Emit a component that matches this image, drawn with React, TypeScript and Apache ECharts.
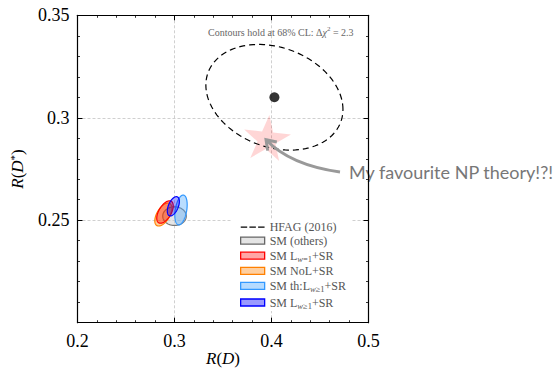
import React, { useEffect, useRef } from "react";
import * as echarts from "echarts";

// ---- data ----
const X_RANGE = [0.2, 0.5];
const Y_RANGE = [0.2, 0.35];
const X_LABELED = [0.2, 0.3, 0.4, 0.5];
const Y_LABELED = [0.25, 0.3, 0.35];
// [centre R(D), centre R(D*), sigma R(D), sigma R(D*), correlation]
const HFAG_2016 = [0.403, 0.31, 0.0466, 0.017, -0.23];
const SM_OTHERS = [0.3, 0.252, 0.008, 0.003, 0];
const SM_LW1_SR = [0.2902, 0.254, 0.0056, 0.0036, 0.55];
const SM_NOL_SR = [0.2885, 0.2528, 0.0058, 0.0037, 0.55];
const SM_TH_LW_SR = [0.3067, 0.255, 0.0042, 0.0048, 0.35];
const SM_LW_SR = [0.2988, 0.2568, 0.0041, 0.0031, 0.5];
const NP_STAR = [0.3954, 0.2905];
const DELTA_CHI2 = 2.3;

const SERIF = "'Liberation Serif', 'Times New Roman', serif";

const STAR_PATH =
  "path://M0,-1 L0.2245,-0.309 L0.951,-0.309 L0.363,0.118 L0.588,0.809 L0,0.382 L-0.588,0.809 L-0.363,0.118 L-0.951,-0.309 L-0.2245,-0.309 Z";
const DASH_ICON =
  "path://M0,0h0.05v0.05h-0.05z M0,2.9h6.5v1.3h-6.5z M8.75,2.9h6.5v1.3h-6.5z M17.5,2.9h6.5v1.3h-6.5z M23.95,7h0.05v0.05h-0.05z";

const LEGEND_TEXT: Record<string, string> = {
  hfag: "{n|HFAG (2016)}",
  others: "{n|SM (others)}",
  lw1: "{n|SM L}{subi|w}{sub|=1}{n|+SR}",
  nol: "{n|SM NoL+SR}",
  th: "{n|SM th:L}{subi|w}{sub|≥1}{n|+SR}",
  lw: "{n|SM L}{subi|w}{sub|≥1}{n|+SR}",
};

function ellipseRenderer(fill: string, stroke: string, lineWidth: number, dash?: number[]) {
  return (params: any, api: any) => {
    const cx = api.value(0);
    const cy = api.value(1);
    const sx = api.value(2);
    const sy = api.value(3);
    const r = api.value(4);
    const k = Math.sqrt(DELTA_CHI2);
    const pts: number[][] = [];
    const N = 120;
    for (let i = 0; i < N; i++) {
      const t = (2 * Math.PI * i) / N;
      const u = Math.cos(t);
      const v = Math.sin(t);
      const x = cx + k * sx * u;
      const y = cy + k * sy * (r * u + Math.sqrt(1 - r * r) * v);
      pts.push(api.coord([x, y]));
    }
    return {
      type: "polygon",
      shape: { points: pts },
      style: { fill, stroke, lineWidth, lineDash: dash },
    };
  };
}

function ellipseSeries(name: string, d: number[], fill: string, stroke: string, lw: number, z: number, dash?: number[]) {
  return {
    type: "custom",
    name,
    coordinateSystem: "cartesian2d",
    xAxisIndex: 0,
    yAxisIndex: 0,
    silent: true,
    clip: true,
    z,
    itemStyle: { color: fill, borderColor: stroke },
    encode: { x: 0, y: 1 },
    data: [d],
    renderItem: ellipseRenderer(fill, stroke, lw, dash),
  };
}

const tickCommon = {
  type: "value",
  axisLine: { show: true, onZero: false, lineStyle: { color: "#000", width: 1.2 } },
  axisTick: { show: true, inside: true, length: 5, lineStyle: { color: "#000", width: 1 } },
  minorTick: { show: true, splitNumber: 5, length: 2.5, lineStyle: { color: "#000", width: 0.8 } },
};

const gridSplit = { show: true, lineStyle: { color: "#c4c4c4", type: [3, 2], width: 0.8 } };

const nameRich = {
  i: { fontFamily: SERIF, fontStyle: "italic", fontSize: 17, color: "#000", lineHeight: 18 },
  r: { fontFamily: SERIF, fontSize: 17, color: "#000", lineHeight: 18 },
  s: { fontFamily: SERIF, fontSize: 11, color: "#000", lineHeight: 8, padding: [0, 0, 8, 0] },
};

export default function App() {
  const ref = useRef<HTMLDivElement>(null);
  useEffect(() => {
    document.body.style.margin = "0";
    const chart = echarts.init(ref.current as HTMLDivElement, null, { renderer: "svg" });
    const option: any = {
      animation: false,
      backgroundColor: "#fff",
      grid: {
        left: 77.5,
        top: 15.3,
        width: 291,
        height: 307.4,
        containLabel: false,
        outerBoundsMode: "none",
      },
      xAxis: [
        {
          ...tickCommon,
          min: X_RANGE[0],
          max: X_RANGE[1],
          interval: 0.1,
          position: "bottom",
          splitLine: gridSplit,
          axisLabel: {
            margin: 9,
            fontFamily: SERIF,
            fontSize: 18,
            color: "#000",
            formatter: (v: number) =>
              X_LABELED.some((t) => Math.abs(t - v) < 1e-9) ? String(+v.toFixed(2)) : "",
          },
          name: "{i|R}{r|(}{i|D}{r|)}",
          nameLocation: "middle",
          nameGap: 27,
          nameMoveOverlap: false,
          nameTextStyle: { rich: nameRich },
        },
        {
          ...tickCommon,
          min: X_RANGE[0],
          max: X_RANGE[1],
          interval: 0.1,
          position: "top",
          axisLabel: { show: false },
          splitLine: { show: false },
        },
      ],
      yAxis: [
        {
          ...tickCommon,
          min: Y_RANGE[0],
          max: Y_RANGE[1],
          interval: 0.05,
          position: "left",
          splitLine: gridSplit,
          axisLabel: {
            margin: 8,
            fontFamily: SERIF,
            fontSize: 18,
            color: "#000",
            formatter: (v: number) =>
              Y_LABELED.some((t) => Math.abs(t - v) < 1e-9) ? String(+v.toFixed(2)) : "",
          },
          name: "{i|R}{r|(}{i|D}{s|*}{r|)}",
          nameLocation: "middle",
          nameGap: 51,
          nameMoveOverlap: false,
          nameTextStyle: { rich: nameRich },
        },
        {
          ...tickCommon,
          min: Y_RANGE[0],
          max: Y_RANGE[1],
          interval: 0.05,
          position: "right",
          axisLabel: { show: false },
          splitLine: { show: false },
        },
      ],
      legend: {
        orient: "vertical",
        left: 232,
        top: 220,
        padding: [1, 6, 1, 8],
        itemWidth: 24,
        itemHeight: 7,
        itemGap: 1.6,
        backgroundColor: "#fff",
        selectedMode: false,
        z: 10,
        formatter: (name: string) => LEGEND_TEXT[name] || name,
        textStyle: {
          fontFamily: SERIF,
          fontSize: 12,
          color: "#555",
          rich: {
            n: { fontFamily: SERIF, fontSize: 12, color: "#555", lineHeight: 14 },
            sub: { fontFamily: SERIF, fontSize: 8.5, color: "#555", lineHeight: 8, padding: [6, 0, 0, 0] },
            subi: { fontFamily: SERIF, fontStyle: "italic", fontSize: 8.5, color: "#555", lineHeight: 8, padding: [6, 0, 0, 0] },
          },
        },
        data: [
          { name: "hfag", icon: DASH_ICON, itemStyle: { color: "#000", borderWidth: 0 } },
          { name: "others", icon: "rect", itemStyle: { color: "#e4e4e4", borderColor: "#666", borderWidth: 1.3 } },
          { name: "lw1", icon: "rect", itemStyle: { color: "#ffa6a6", borderColor: "#ff0000", borderWidth: 1.3 } },
          { name: "nol", icon: "rect", itemStyle: { color: "#ffcf9f", borderColor: "#ff8000", borderWidth: 1.3 } },
          { name: "th", icon: "rect", itemStyle: { color: "#b5dbff", borderColor: "#3399ff", borderWidth: 1.3 } },
          { name: "lw", icon: "rect", itemStyle: { color: "#9a9aff", borderColor: "#0000ff", borderWidth: 1.3 } },
        ],
      },
      series: [
        {
          type: "scatter",
          name: "star",
          silent: true,
          z: 1,
          symbol: STAR_PATH,
          symbolSize: [47, 44.7],
          symbolRotate: -6,
          itemStyle: { color: "rgba(255,0,0,0.2)" },
          data: [NP_STAR],
        },
        ellipseSeries("hfag", HFAG_2016, "none", "#000", 1.2, 3, [6, 4]),
        ellipseSeries("others", SM_OTHERS, "rgba(200,200,200,0.45)", "#777", 1.2, 3),
        ellipseSeries("nol", SM_NOL_SR, "rgba(255,140,0,0.4)", "#ff8000", 1.2, 4),
        ellipseSeries("lw1", SM_LW1_SR, "rgba(255,0,0,0.35)", "#ff0000", 1.2, 5),
        ellipseSeries("th", SM_TH_LW_SR, "rgba(80,170,255,0.4)", "#3399ff", 1.2, 6),
        ellipseSeries("lw", SM_LW_SR, "rgba(0,0,255,0.35)", "#0000ff", 1.2, 7),
        {
          type: "scatter",
          name: "centre",
          silent: true,
          z: 8,
          symbol: "circle",
          symbolSize: 10,
          itemStyle: { color: "#000" },
          data: [[HFAG_2016[0], HFAG_2016[1]]],
        },
      ],
    };
    chart.setOption(option);

    const p = chart.convertToPixel({ xAxisIndex: 0, yAxisIndex: 0 }, NP_STAR) as number[];
    const tip = [p[0] - 1, p[1] + 2.5];
    const tail = [340, 172];
    const ctrl = [290, 165];
    const dx = tip[0] - ctrl[0];
    const dy = tip[1] - ctrl[1];
    const len = Math.sqrt(dx * dx + dy * dy);
    const ux = dx / len;
    const uy = dy / len;
    const L = 11;
    const a = (35 * Math.PI) / 180;
    const arm = (s: number) => [
      tip[0] - L * (ux * Math.cos(s * a) - uy * Math.sin(s * a)),
      tip[1] - L * (ux * Math.sin(s * a) + uy * Math.cos(s * a)),
    ];

    chart.setOption({
      graphic: [
        {
          type: "text",
          z: 20,
          style: {
            x: 208,
            y: 32,
            verticalAlign: "middle",
            text: "{t|Contours hold at 68% CL: Δ}{ti|χ}{sup|2}{t| = 2.3}",
            rich: {
              t: { fontFamily: SERIF, fontSize: 10, fill: "#666", lineHeight: 12 },
              ti: { fontFamily: SERIF, fontStyle: "italic", fontSize: 10, fill: "#666", lineHeight: 12 },
              sup: { fontFamily: SERIF, fontSize: 7, fill: "#666", lineHeight: 6, padding: [0, 0, 6, 0] },
            },
          },
        },
        {
          type: "bezierCurve",
          z: 20,
          shape: { x1: tail[0], y1: tail[1], cpx1: ctrl[0], cpy1: ctrl[1], x2: tip[0], y2: tip[1] },
          style: { stroke: "#999", lineWidth: 3, fill: "none" },
        },
        {
          type: "polyline",
          z: 20,
          shape: { points: [arm(1), tip, arm(-1)] },
          style: { stroke: "#999", lineWidth: 3, fill: "none" },
        },
        {
          type: "text",
          z: 0,
          style: {
            x: 349,
            y: 172,
            verticalAlign: "middle",
            text: "My favourite NP theory!?!",
            fontFamily: "Lato, 'DejaVu Sans', sans-serif",
            fontSize: 18,
            fill: "#777",
          },
        },
      ],
    });
    return () => chart.dispose();
  }, []);
  return <div ref={ref} style={{ width: 555, height: 371 }} />;
}
